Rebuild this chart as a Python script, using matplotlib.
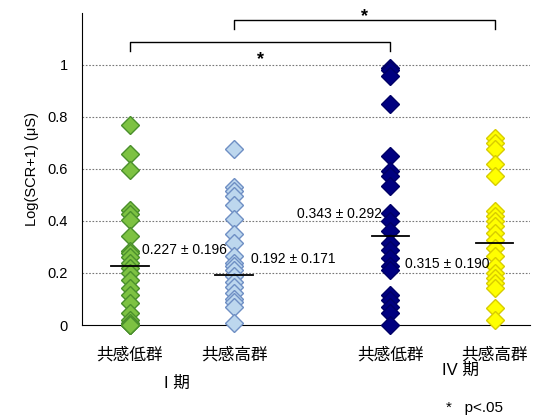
import matplotlib
matplotlib.use("Agg")
import matplotlib.pyplot as plt

plt.rcParams['font.family'] = ['Liberation Sans', 'Noto Sans CJK JP', 'DejaVu Sans']

# data
groups = ["共感低群", "共感高群", "共感低群", "共感高群"]
periods = ["I 期", "IV 期"]
low_I = [0.768, 0.656, 0.595, 0.444, 0.425, 0.405, 0.344, 0.286, 0.275, 0.263, 0.239,
         0.22, 0.20, 0.174, 0.143, 0.116, 0.085, 0.046, 0.019, 0.008, 0.0, 0.0, 0.0]
high_I = [0.678, 0.530, 0.515, 0.495, 0.463, 0.408, 0.350, 0.315, 0.264, 0.238, 0.225,
          0.21, 0.19, 0.167, 0.148, 0.122, 0.10, 0.09, 0.071, 0.007]
low_IV = [0.99, 0.98, 0.959, 0.849, 0.65, 0.592, 0.573, 0.534, 0.431, 0.399, 0.36,
          0.315, 0.29, 0.257, 0.225, 0.212, 0.116, 0.097, 0.071, 0.045, 0.0]
high_IV = [0.721, 0.701, 0.676, 0.618, 0.573, 0.438, 0.418, 0.399, 0.38, 0.354, 0.328,
           0.296, 0.264, 0.225, 0.20, 0.18, 0.161, 0.142, 0.064, 0.019]
means = [0.227, 0.192, 0.343, 0.315]
sds = [0.196, 0.171, 0.292, 0.190]
yticks = [0, 0.2, 0.4, 0.6, 0.8, 1]

xs = [1, 2, 3.5, 4.5]
series = [low_I, high_I, low_IV, high_IV]
faces = ["#7dc242", "#bdd7ee", "#000080", "#ffff00"]
edges = ["#4a8f2c", "#6f8fc4", "#000066", "#d8cc00"]

fig = plt.figure(figsize=(5.35, 4.17), dpi=100)
ax = fig.add_axes([0.153, 0.2206, 0.837, 0.7484])

for x, vals, fc, ec in zip(xs, series, faces, edges):
    ax.plot([x] * len(vals), vals, "D", ms=9.5, mfc=fc, mec=ec, mew=1, ls="none",
            zorder=3, clip_on=False)

for x, m in zip(xs, means):
    ax.plot([x - 0.18, x + 0.18], [m, m], color="black", lw=1.3, zorder=4)

# mean +- sd labels
lab = ["%.3f ± %.3f" % (m, s) for m, s in zip(means, sds)]
ax.text(1.115, 0.29, lab[0], fontsize=10, va="center", ha="left")
ax.text(2.167, 0.254, lab[1], fontsize=10, va="center", ha="left")
ax.text(3.416, 0.428, lab[2], fontsize=10, va="center", ha="right")
ax.text(3.636, 0.233, lab[3], fontsize=10, va="center", ha="left")

# significance brackets
def bracket(x1, x2, y, star_y):
    ax.plot([x1, x1, x2, x2], [y - 0.035, y, y, y - 0.035], color="black", lw=1,
            clip_on=False)
    ax.text((x1 + x2) / 2, star_y, "*", fontsize=13, ha="center", va="center",
            fontweight="bold", clip_on=False)

bracket(xs[1], xs[3], 1.174, 1.185)
bracket(xs[0], xs[2], 1.089, 1.022)

ax.set_xlim(0.54, 4.835)
ax.set_ylim(0, 1.2)
ax.set_yticks(yticks)
ax.set_yticklabels(["0", "0.2", "0.4", "0.6", "0.8", "1"], fontsize=10.5)
ax.tick_params(axis="y", length=0, pad=10)
ax.set_xticks(xs)
ax.set_xticklabels(groups, fontsize=12)
ax.tick_params(axis="x", length=0, pad=16)
ax.set_ylabel("Log(SCR+1) (μS)", fontsize=10.5, labelpad=6)
for y in yticks[1:]:
    ax.axhline(y, color="#777777", lw=0.8, ls=(0, (1.5, 1.5)), zorder=1)
ax.spines["top"].set_visible(False)
ax.spines["right"].set_visible(False)

fig.text(177 / 535, 1 - 383 / 417, periods[0], fontsize=12, ha="center", va="center")
fig.text(460 / 535, 1 - 370 / 417, periods[1], fontsize=12, ha="center", va="center")
fig.text(474 / 535, 1 - 408 / 417, "*   p<.05", fontsize=11, ha="center", va="center")

plt.savefig("out.png", dpi=100)
